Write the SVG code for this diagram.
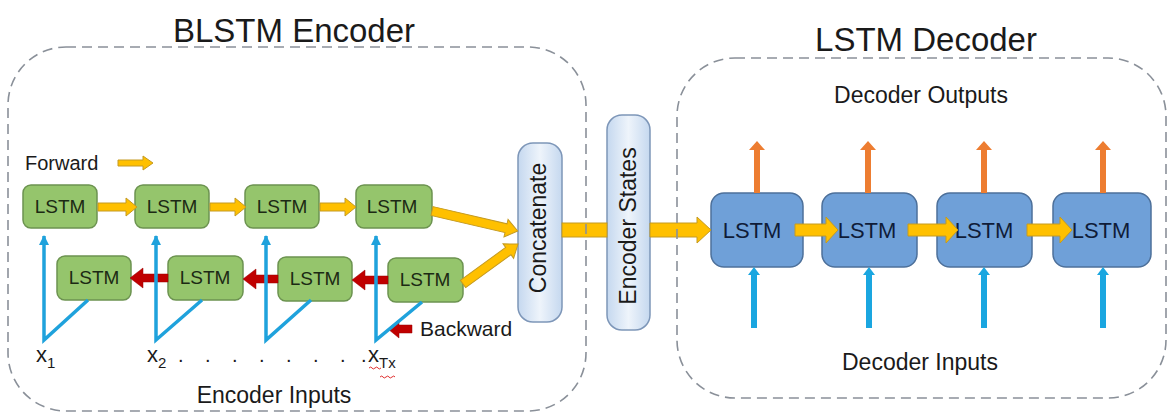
<svg xmlns="http://www.w3.org/2000/svg" width="1169" height="419" viewBox="0 0 1169 419">
<defs>
<style>
.t{font-family:"Liberation Sans",Arial,sans-serif;fill:#1a1a1a}
.g{fill:#95C56C;stroke:#6C9350;stroke-width:1.5}
.gl{font-family:"Liberation Sans",Arial,sans-serif;font-size:19px;fill:#1c2a14;text-anchor:middle}
.b{fill:#6FA0D8;stroke:#4D709A;stroke-width:1.5}
.bl{font-family:"Liberation Sans",Arial,sans-serif;font-size:22px;fill:#0f1c38;text-anchor:middle}
.y{fill:#FFC000;stroke:#C49A22;stroke-width:1}
.r{fill:#C00000;stroke:#9a0000;stroke-width:0.5}
.bln{stroke:#1FA2DC;stroke-width:3.5;fill:none}
.ctr{fill:none;stroke:#8A9099;stroke-width:1.6;stroke-dasharray:10 6}
.pill{fill:url(#pg);stroke:#7D96B8;stroke-width:1.5}
</style>
<linearGradient id="pg" x1="0" y1="0" x2="1" y2="0">
<stop offset="0" stop-color="#C5D8EF"/>
<stop offset="0.5" stop-color="#EEF4FB"/>
<stop offset="1" stop-color="#C5D8EF"/>
</linearGradient>
<marker id="bh" viewBox="0 0 10 10" refX="9" refY="5" markerWidth="3" markerHeight="3" orient="auto">
<path d="M0,0 L10,5 L0,10 Z" fill="#1FA2DC"/>
</marker>
</defs>

<!-- titles -->
<text class="t" x="294" y="42" font-size="33" text-anchor="middle">BLSTM Encoder</text>
<text class="t" x="926" y="51" font-size="33" text-anchor="middle">LSTM Decoder</text>
<text class="t" x="921" y="103" font-size="23" text-anchor="middle">Decoder Outputs</text>
<text class="t" x="920" y="370" font-size="23" text-anchor="middle">Decoder Inputs</text>
<text class="t" x="274" y="403" font-size="23" text-anchor="middle">Encoder Inputs</text>
<text class="t" x="25" y="170" font-size="20">Forward</text>
<text class="t" x="420" y="336" font-size="21">Backward</text>

<!-- input labels -->
<text class="t" x="36" y="362" font-size="22">x<tspan font-size="15" dy="6">1</tspan></text>
<text class="t" x="147" y="362" font-size="22">x<tspan font-size="15" dy="6">2</tspan></text>
<text class="t" x="178 205 232 259 286 313 340 361" y="362" font-size="20">........</text>
<text class="t" x="368" y="362" font-size="22">x<tspan font-size="15" dy="6">Tx</tspan></text>
<path d="M369,368 q2,-2 3,0 t3,0 t3,0 t3,0 M380,377 q2,-2 3,0 t3,0 t3,0 t3,0 t3,0" fill="none" stroke="#E03030" stroke-width="1"/>

<!-- encoder nodes -->
<g id="fwd1"><rect class="g" x="23" y="185" width="74" height="43" rx="8"/><text class="gl" x="60" y="213">LSTM</text></g>
<g id="fwd2"><rect class="g" x="135" y="185" width="74" height="43" rx="8"/><text class="gl" x="172" y="213">LSTM</text></g>
<g id="fwd3"><rect class="g" x="245" y="185" width="74" height="43" rx="8"/><text class="gl" x="282" y="213">LSTM</text></g>
<g id="fwd4"><rect class="g" x="356" y="185" width="76" height="43" rx="8"/><text class="gl" x="392" y="213">LSTM</text></g>
<g id="bwd1"><rect class="g" x="57" y="256" width="74" height="44" rx="8"/><text class="gl" x="94" y="284">LSTM</text></g>
<g id="bwd2"><rect class="g" x="168" y="256" width="75" height="44" rx="8"/><text class="gl" x="205" y="284">LSTM</text></g>
<g id="bwd3"><rect class="g" x="278" y="257" width="74" height="44" rx="8"/><text class="gl" x="315" y="285">LSTM</text></g>
<g id="bwd4"><rect class="g" x="388" y="258" width="75" height="44" rx="8"/><text class="gl" x="425" y="286">LSTM</text></g>

<g id="concatenate"><rect class="pill" x="518" y="143" width="44" height="179" rx="15"/>
<text class="t" font-size="23" text-anchor="middle" transform="translate(546,228) rotate(-90)">Concatenate</text></g>
<g id="encoder-states"><rect class="pill" x="607" y="115" width="43" height="215" rx="15"/>
<text class="t" font-size="23" text-anchor="middle" transform="translate(636,226) rotate(-90)">Encoder States</text></g>

<!-- decoder nodes -->
<g id="dec1"><rect class="b" x="711" y="193" width="92" height="74" rx="13"/><text class="bl" x="752" y="238">LSTM</text></g>
<g id="dec2"><rect class="b" x="822" y="193" width="95" height="74" rx="13"/><text class="bl" x="867" y="238">LSTM</text></g>
<g id="dec3"><rect class="b" x="937" y="193" width="95" height="74" rx="13"/><text class="bl" x="984" y="238">LSTM</text></g>
<g id="dec4"><rect class="b" x="1053" y="193" width="98" height="74" rx="13"/><text class="bl" x="1101" y="238">LSTM</text></g>

<!-- connectors -->
<g id="connectors">
<path class="y" d="M118,160 H143 V156 L153,163 L143,170 V166 H118 Z"/>
<path class="y" d="M98,203 H126 V198 L137,207 L126,216 V211 H98 Z"/>
<path class="y" d="M210,203 H235 V198 L246,207 L235,216 V211 H210 Z"/>
<path class="y" d="M320,203 H345 V198 L356,207 L345,216 V211 H320 Z"/>
<path class="r" d="M168,274 H143 V268 L130,278 L143,288 V282 H168 Z"/>
<path class="r" d="M278,275 H256 V269 L243,279 L256,289 V283 H278 Z"/>
<path class="r" d="M388,276 H365 V270 L352,280 L365,290 V284 H388 Z"/>
<path class="r" d="M412,325 H399 V320 L388,329 L399,338 V333 H412 Z"/>
<g transform="translate(432,211) rotate(13.1)"><path class="y" d="M0,-4.5 H76 V-9 L88,0 L76,9 V4.5 H0 Z"/></g>
<g transform="translate(463,284) rotate(-36)"><path class="y" d="M0,-4.5 H56 V-9 L68,0 L56,9 V4.5 H0 Z"/></g>
<rect class="y" x="562" y="223" width="45" height="14"/>
<path class="y" d="M650,223 H697 V217 L711,230 L697,243 V237 H650 Z"/>
<path class="y" d="M795,224 H826 V217 L838,230 L826,243 V236 H795 Z"/>
<path class="y" d="M908,224 H946 V217 L958,230 L946,243 V236 H908 Z"/>
<path class="y" d="M1027,224 H1060 V217 L1072,230 L1060,243 V236 H1027 Z"/>
<!-- encoder input lines -->
<path class="bln" d="M88,300 L44,340 L44,236" marker-end="url(#bh)"/>
<path class="bln" d="M202,300 L156,340 L156,236" marker-end="url(#bh)"/>
<path class="bln" d="M311,300 L266,340 L266,236" marker-end="url(#bh)"/>
<path class="bln" d="M422,302 L376,340 L376,236" marker-end="url(#bh)"/>
<!-- decoder outputs -->
<g fill="#ED7D31">
<path d="M754,193 V150 H749 L757,141 L765,150 H760 V193 Z"/>
<path d="M865,193 V150 H860 L868,141 L876,150 H871 V193 Z"/>
<path d="M981,193 V150 H976 L984,141 L992,150 H987 V193 Z"/>
<path d="M1100,193 V150 H1095 L1103,141 L1111,150 H1106 V193 Z"/>
</g>
<!-- decoder inputs -->
<g fill="#1AA6E0">
<path d="M751,328 V275 H748 L754,267 L760,275 H757 V328 Z"/>
<path d="M866,328 V275 H863 L869,267 L875,275 H872 V328 Z"/>
<path d="M981,328 V275 H978 L984,267 L990,275 H987 V328 Z"/>
<path d="M1100,328 V275 H1097 L1103,267 L1109,275 H1106 V328 Z"/>
</g>
</g>

<!-- containers -->
<g id="encoder-container"><rect class="ctr" x="8" y="47" width="578" height="364" rx="58"/></g>
<g id="decoder-container"><rect class="ctr" x="677" y="58" width="489" height="340" rx="58"/></g>
</svg>
